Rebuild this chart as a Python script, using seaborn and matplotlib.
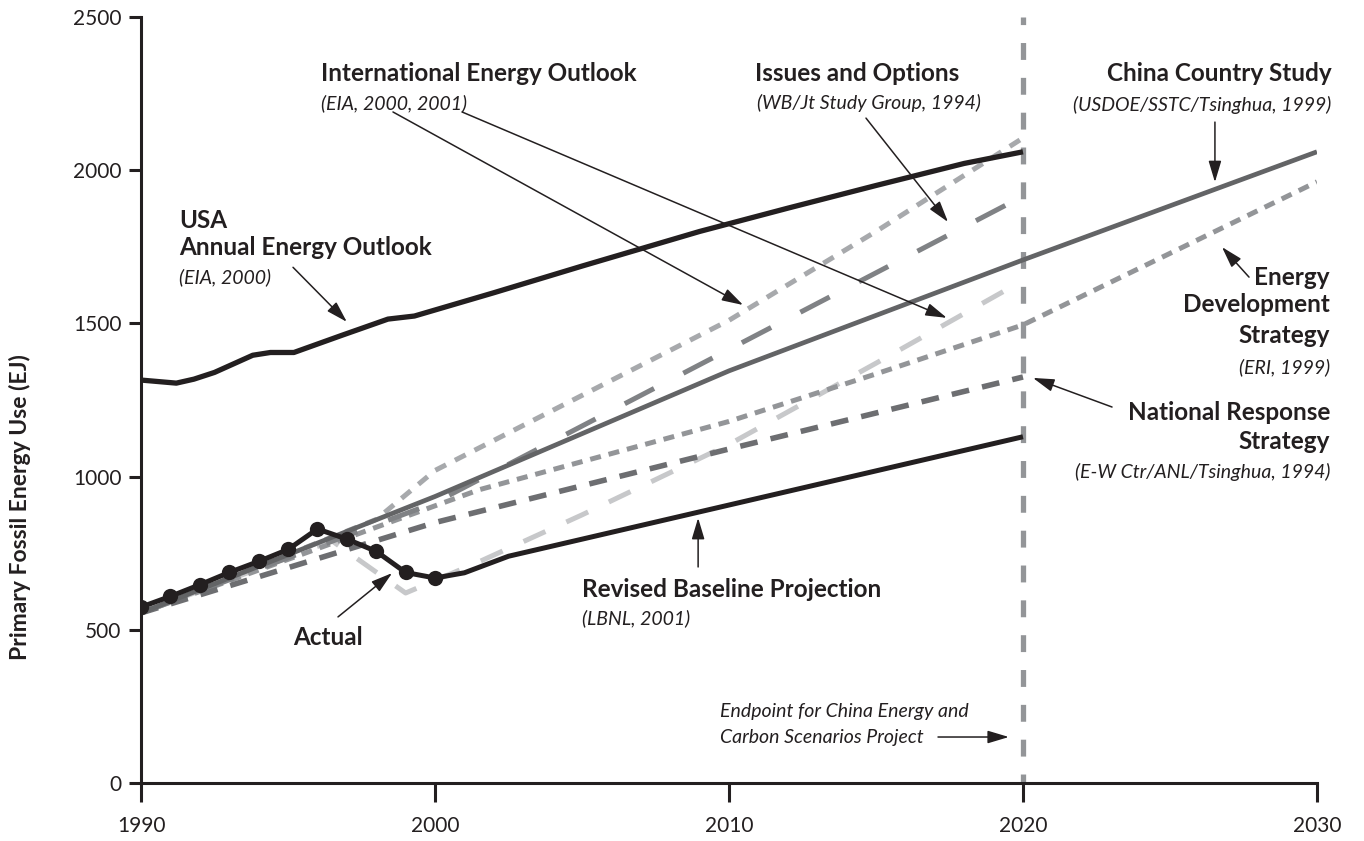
import matplotlib
matplotlib.use("Agg")
import matplotlib.pyplot as plt
import seaborn as sns

# values (EJ)
actual_years = [1990, 1991, 1992, 1993, 1994, 1995, 1996, 1997, 1998, 1999, 2000]
actual_vals = [574, 609, 647, 687, 723, 762, 829, 796, 756, 687, 669]

usa_years = [1990, 1991.2, 1991.8, 1992.5, 1993.8, 1994.4, 1995.2, 1996.8, 1998.4,
             1999.3, 2002, 2005, 2009, 2012, 2015, 2018, 2020]
usa_vals = [1315, 1305, 1318, 1340, 1396, 1405, 1405, 1460, 1514,
            1524, 1600, 1687, 1800, 1876, 1950, 2022, 2060]

baseline_years = [2000, 2001, 2002.5, 2020]
baseline_vals = [669, 686, 740, 1130]

china_years = [1990, 2000, 2010, 2020, 2030]
china_vals = [555, 935, 1345, 1707, 2060]

issues_years = [1990, 2000, 2020]
issues_vals = [555, 915, 1915]

ieo2000_years = [1990, 1998, 2000, 2005, 2010, 2015, 2020]
ieo2000_vals = [555, 860, 1020, 1265, 1510, 1800, 2105]

ieo2001_years = [1990, 1996.5, 1999, 2001.5, 2005, 2010, 2015, 2020]
ieo2001_vals = [555, 790, 620, 722, 875, 1105, 1370, 1640]

eds_years = [1990, 2001.5, 2010, 2015, 2020, 2030]
eds_vals = [555, 957, 1180, 1335, 1495, 1962]

nrs_years = [1990, 2000, 2010, 2020]
nrs_vals = [555, 850, 1090, 1325]

endpoint_year = 2020
x_ticks = [1990, 2000, 2010, 2020, 2030]
y_ticks = [0, 500, 1000, 1500, 2000, 2500]

sns.set_style("ticks")
plt.rcParams['font.family'] = ['Lato', 'DejaVu Sans']

ink = '#231f20'

fig, ax = plt.subplots(figsize=(13.64, 8.41), dpi=100)
fig.subplots_adjust(left=0.1034, right=0.9655, bottom=0.069, top=0.9798)


def draw(x, y, color, lw, dash=None, z=2, **kw):
    ls = '-' if dash is None else (0, dash)
    sns.lineplot(x=x, y=y, ax=ax, color=color, linewidth=lw, linestyle=ls,
                 solid_capstyle='butt', dash_capstyle='butt', zorder=z, **kw)


ax.axvline(endpoint_year, color='#939598', lw=3.8, linestyle=(1.5, (3.2, 3.4)),
           dash_capstyle='butt', zorder=1)

draw(ieo2001_years, ieo2001_vals, '#c7c8ca', 3.6, (4.8, 4.6))
draw(ieo2000_years, ieo2000_vals, '#a7a9ac', 3.6, (2.4, 2.0))
draw(eds_years, eds_vals, '#939598', 3.6, (2.2, 1.6))
draw(issues_years, issues_vals, '#808285', 3.6, (6.6, 6.6))
draw(nrs_years, nrs_vals, '#6d6e71', 4.0, (3.2, 2.4))
draw(china_years, china_vals, '#636466', 3.4)
draw(usa_years, usa_vals, ink, 3.8, z=3)
draw(baseline_years, baseline_vals, ink, 3.6, z=3)
draw(actual_years, actual_vals, ink, 3.6, z=4, marker='o', markersize=11,
     markeredgewidth=0, markerfacecolor=ink)

ax.set_xlim(1990, 2030)
ax.set_ylim(0, 2500)
ax.set_xticks(x_ticks)
ax.set_yticks(y_ticks)
sns.despine(ax=ax)
for s in ['left', 'bottom']:
    ax.spines[s].set_color(ink)
    ax.spines[s].set_linewidth(2.2)
ax.tick_params(axis='x', length=14, width=2.2, color=ink, labelsize=15, pad=10, labelcolor=ink)
ax.tick_params(axis='y', length=9, width=2.2, color=ink, labelsize=15, pad=5, labelcolor=ink)
ax.set_xlabel('')
ax.set_ylabel('Primary Fossil Energy Use (EJ)', fontsize=16.5, fontweight='bold', color=ink)
ax.yaxis.set_label_coords(-0.094, 0.36)


def bold(x, y, s, ha='left'):
    ax.text(x, y, s, fontsize=17.5, fontweight='bold', color=ink, ha=ha, va='center')


def ital(x, y, s, ha='left'):
    ax.text(x, y, s, fontsize=14, fontstyle='italic', color=ink, ha=ha, va='center')


def arrow(tail, tip):
    ax.annotate('', xy=tip, xytext=tail,
                arrowprops=dict(arrowstyle='-|>,head_length=1.0,head_width=0.3',
                                color=ink, lw=1.1, mutation_scale=13,
                                shrinkA=0, shrinkB=0), annotation_clip=False)


bold(1996.12, 2317, 'International Energy Outlook')
ital(1996.12, 2219, '(EIA, 2000, 2001)')
arrow((1998.57, 2190), (2010.48, 1560))
arrow((2000.92, 2190), (2017.41, 1518))

bold(2010.88, 2317, 'Issues and Options')
ital(2010.95, 2219, '(WB/Jt Study Group, 1994)')
arrow((2014.66, 2170), (2017.45, 1831))

bold(2030.5, 2317, 'China Country Study', ha='right')
ital(2030.5, 2212, '(USDOE/SSTC/Tsinghua, 1999)', ha='right')
arrow((2026.53, 2157), (2026.53, 1961))

bold(1991.29, 1837, 'USA')
bold(1991.29, 1749, 'Annual Energy Outlook')
ital(1991.29, 1651, '(EIA, 2000)')
arrow((1995.17, 1683), (1997.0, 1505))

bold(2030.44, 1651, 'Energy', ha='right')
bold(2030.44, 1560, 'Development', ha='right')
bold(2030.44, 1462, 'Strategy', ha='right')
ital(2030.44, 1358, '(ERI, 1999)', ha='right')
arrow((2027.69, 1651), (2026.77, 1749))

bold(2030.44, 1208, 'National Response', ha='right')
bold(2030.44, 1113, 'Strategy', ha='right')
ital(2030.44, 1015, '(E-W Ctr/ANL/Tsinghua, 1994)', ha='right')
arrow((2023.03, 1227), (2020.34, 1322))

bold(2005.0, 630, 'Revised Baseline Projection')
ital(2005.0, 539, '(LBNL, 2001)')
arrow((2008.95, 705), (2008.95, 865))

bold(1995.17, 476, 'Actual')
arrow((1996.7, 542), (1998.54, 685))

ital(2009.69, 232, 'Endpoint for China Energy and')
ital(2009.69, 147, 'Carbon Scenarios Project')
arrow((2017.11, 150), (2019.52, 150))

plt.savefig('out.png', dpi=100)
